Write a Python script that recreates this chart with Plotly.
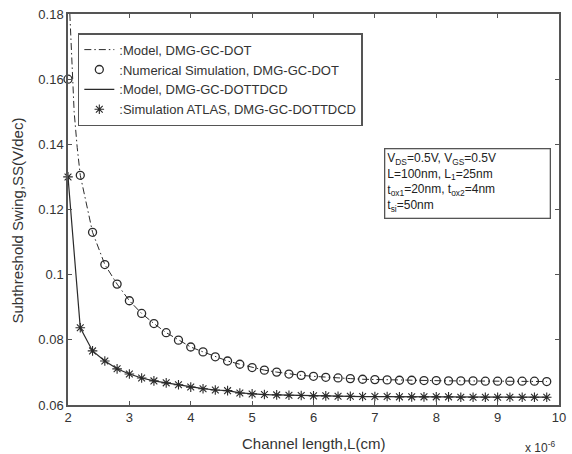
import plotly.graph_objects as go

# Channel length in units of 1e-6 cm
L_sim = [2.0, 2.2, 2.4, 2.6, 2.8, 3.0, 3.2, 3.4, 3.6, 3.8,
         4.0, 4.2, 4.4, 4.6, 4.8, 5.0, 5.2, 5.4, 5.6, 5.8,
         6.0, 6.2, 6.4, 6.6, 6.8, 7.0, 7.2, 7.4, 7.6, 7.8,
         8.0, 8.2, 8.4, 8.6, 8.8, 9.0, 9.2, 9.4, 9.6, 9.8]

# Numerical simulation, DMG-GC-DOT
ss_dot_sim = [0.1600, 0.1305, 0.1130, 0.1031, 0.0971, 0.0920, 0.0881, 0.0850, 0.0822, 0.0799,
              0.0778, 0.0763, 0.0748, 0.0735, 0.0725, 0.0715, 0.0707, 0.0701, 0.0695, 0.0691,
              0.0688, 0.0685, 0.0683, 0.0681, 0.0679, 0.0678, 0.0677, 0.0676, 0.0676, 0.0675,
              0.0675, 0.0674, 0.0674, 0.0674, 0.0673, 0.0673, 0.0673, 0.0673, 0.0673, 0.0672]

# Model, DMG-GC-DOT
L_model_dot = [2.03, 2.06, 2.10, 2.15, 2.2, 2.4, 2.6, 2.8, 3.0, 3.2, 3.4, 3.6, 3.8,
               4.0, 4.2, 4.4, 4.6, 4.8, 5.0, 5.2, 5.4, 5.6, 5.8,
               6.0, 6.2, 6.4, 6.6, 6.8, 7.0, 7.2, 7.4, 7.6, 7.8,
               8.0, 8.2, 8.4, 8.6, 8.8, 9.0, 9.2, 9.4, 9.6, 9.8]
ss_model_dot = [0.1800, 0.1650, 0.1500, 0.1390, 0.1305, 0.1130, 0.1031, 0.0971, 0.0920, 0.0881,
                0.0850, 0.0822, 0.0799, 0.0778, 0.0763, 0.0748, 0.0735, 0.0725, 0.0715,
                0.0707, 0.0701, 0.0695, 0.0691, 0.0688, 0.0685, 0.0683, 0.0681, 0.0679,
                0.0678, 0.0677, 0.0676, 0.0676, 0.0675, 0.0675, 0.0674, 0.0674, 0.0674,
                0.0673, 0.0673, 0.0673, 0.0673, 0.0673, 0.0672]

# Simulation ATLAS, DMG-GC-DOTTDCD
ss_tdcd_sim = [0.1300, 0.0837, 0.0766, 0.0735, 0.0711, 0.0695, 0.0683, 0.0674, 0.0668, 0.0662,
               0.0655, 0.0650, 0.0646, 0.0644, 0.0637, 0.0634, 0.0632, 0.0631, 0.0630, 0.0629,
               0.0628, 0.0628, 0.0627, 0.0627, 0.0626, 0.0626, 0.0626, 0.0625, 0.0625, 0.0625,
               0.0625, 0.0625, 0.0624, 0.0624, 0.0624, 0.0624, 0.0624, 0.0624, 0.0624, 0.0624]

# Model, DMG-GC-DOTTDCD
ss_tdcd_model = list(ss_tdcd_sim)

x_ticks = [2, 3, 4, 5, 6, 7, 8, 9, 10]
y_ticks = [0.06, 0.08, 0.1, 0.12, 0.14, 0.16, 0.18]
y_tick_text = ["0.06", "0.08", "0.1", "0.12", "0.14", "0.16", "0.18"]

FONT = "Liberation Sans, Arial, sans-serif"
INK = "#2a2a2a"
AXIS = "#555555"

fig = go.Figure()
fig.add_trace(go.Scatter(
    x=L_model_dot, y=ss_model_dot, mode="lines", name=":Model, DMG-GC-DOT",
    line=dict(color=INK, width=1, dash="7px,3px,1.5px,3px")))
fig.add_trace(go.Scatter(
    x=L_sim, y=ss_dot_sim, mode="markers", name=":Numerical Simulation, DMG-GC-DOT",
    marker=dict(symbol="circle-open", size=8, color=INK, line=dict(width=1.3, color=INK)),
    cliponaxis=False))
fig.add_trace(go.Scatter(
    x=L_sim, y=ss_tdcd_model, mode="lines", name=":Model, DMG-GC-DOTTDCD",
    line=dict(color=INK, width=1.2)))
fig.add_trace(go.Scatter(
    x=L_sim, y=ss_tdcd_sim, mode="markers", name=":Simulation ATLAS, DMG-GC-DOTTDCD",
    marker=dict(symbol="asterisk-open", size=8, color=INK, line=dict(width=1.1, color=INK)),
    cliponaxis=False))

axis_common = dict(
    showline=True, linecolor=AXIS, linewidth=1.5, mirror="ticks",
    ticks="inside", ticklen=4, tickcolor=AXIS, tickwidth=1,
    showgrid=False, zeroline=False,
    tickfont=dict(family=FONT, size=13, color="#333333"),
)

fig.update_layout(
    width=572, height=454,
    margin=dict(l=68, r=6, t=14, b=49),
    paper_bgcolor="white", plot_bgcolor="white",
    font=dict(family=FONT, color=INK),
    xaxis=dict(range=[2, 10], tickvals=x_ticks, **axis_common),
    yaxis=dict(range=[0.06, 0.18], tickvals=y_ticks, ticktext=y_tick_text, **axis_common),
    legend=dict(
        x=0.02, y=0.951, xanchor="left", yanchor="top",
        bgcolor="white", bordercolor=AXIS, borderwidth=1.5,
        font=dict(family=FONT, size=13, color="#333333"),
        itemwidth=30, tracegroupgap=0,
    ),
    showlegend=True,
)

# Axis titles and exponent label
fig.add_annotation(text="Channel length,L(cm)", xref="paper", yref="paper",
                   x=0.5, y=-0.072, xanchor="center", yanchor="top", showarrow=False,
                   font=dict(family=FONT, size=15, color="#333333"))
fig.add_annotation(text="x 10<sup>-6</sup>", xref="paper", yref="paper",
                   x=0.995, y=-0.082, xanchor="right", yanchor="top", showarrow=False,
                   font=dict(family=FONT, size=12, color="#333333"))
fig.add_annotation(text="Subthreshold Swing,SS(V/dec)", xref="paper", yref="paper",
                   x=-0.103, y=0.473, xanchor="center", yanchor="middle", showarrow=False,
                   textangle=-90, font=dict(family=FONT, size=15, color="#333333"))

# Device parameters box
fig.add_annotation(
    text=("V<sub>DS</sub>=0.5V, V<sub>GS</sub>=0.5V<br>"
          "L=100nm, L<sub>1</sub>=25nm<br>"
          "t<sub>ox1</sub>=20nm, t<sub>ox2</sub>=4nm<br>"
          "t<sub>si</sub>=50nm"),
    xref="paper", yref="paper", x=0.643, y=0.657, xanchor="left", yanchor="top",
    align="left", valign="top", showarrow=False, width=160, height=64,
    bordercolor=AXIS, borderwidth=1.3, borderpad=2, bgcolor="white",
    font=dict(family=FONT, size=12, color="#222222"))

fig.write_html("out.html")
